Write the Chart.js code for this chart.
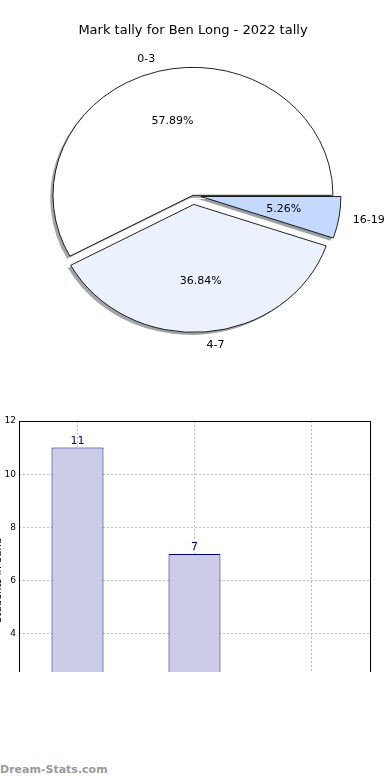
<!DOCTYPE html>
<html>
<head>
<meta charset="utf-8">
<script src="https://cdn.jsdelivr.net/npm/chart.js@4/dist/chart.umd.min.js"></script>
<style>
    html, body { margin: 0; padding: 0; background: #fff; }
    body { width: 390px; height: 780px; position: relative; overflow: hidden; font-family: "DejaVu Sans", sans-serif; }
    #pieBox { position: absolute; left: 0; top: 0; width: 390px; height: 390px; }
    #barClip { position: absolute; left: 0; top: 400px; width: 390px; height: 272px; overflow: hidden; }
    #barBox { position: absolute; left: -8px; top: 0; width: 398px; height: 420px; }
    #marca { position: absolute; left: 0; top: 763px; font-size: 11px; font-weight: bold; color: #9a9a9a; }
</style>
</head>
<body>
<div id="pieBox"><canvas id="graficaPastel" width="390" height="390"></canvas></div>
<div id="barClip"><div id="barBox"><canvas id="graficaBarras" width="398" height="420"></canvas></div></div>
<div id="marca">Dream-Stats.com</div>

<script>
// --- DATOS ---
const tituloGrafica = 'Mark tally for Ben Long - 2022 tally';
const bandas = ['0-3', '4-7', '16-19'];
const cantidades = [11, 7, 1];
const ticksY = [0, 2, 4, 6, 8, 10, 12];
const tituloEjeY = 'Students in band';

const FUENTE = '"DejaVu Sans", sans-serif';
const ESCALA_Y = 0.914;   // el pastel original sale achatado
const coloresPastel = { '0-3': '#ffffff', '4-7': '#ebf2fe', '16-19': '#c5d9fe' };
const sombras = { '0-3': 'rgba(77,77,77,0.5)', '4-7': 'rgba(70,73,76,0.5)', '16-19': 'rgba(59,65,76,0.5)' };
const separacion = { '0-3': 0, '4-7': 10, '16-19': 8 };

document.addEventListener('DOMContentLoaded', () => {
    dibujarPastel();
    dibujarBarras();
});

function dibujarPastel() {
    // matplotlib va en sentido antihorario desde las 3; Chart.js va en sentido horario
    const orden = bandas.slice().reverse();
    const valores = orden.map(b => cantidades[bandas.indexOf(b)]);
    const total = cantidades.reduce((a, b) => a + b, 0);

    const estiloPastel = {
        id: 'estiloPastel',
        beforeDatasetDraw(chart, args) {
            const ctx = chart.ctx;
            args.meta.data.forEach((arco, i) => {
                const banda = orden[i];
                const medio = (arco.startAngle + arco.endAngle) / 2;
                const ex = separacion[banda];
                // sombra
                ctx.save();
                ctx.translate(arco.x - 2.8, arco.y + 2.6);
                ctx.scale(1, ESCALA_Y);
                ctx.translate(Math.cos(medio) * ex, Math.sin(medio) * ex);
                ctx.beginPath();
                ctx.moveTo(0, 0);
                ctx.arc(0, 0, arco.outerRadius, arco.startAngle, arco.endAngle);
                ctx.closePath();
                ctx.fillStyle = sombras[banda];
                ctx.fill();
                ctx.restore();
                if (!arco._envuelto) {
                    const original = arco.draw;
                    arco.draw = function (c, area) {
                        const m = (this.startAngle + this.endAngle) / 2;
                        c.save();
                        c.translate(this.x, this.y);
                        c.scale(1, ESCALA_Y);
                        c.translate(-this.x, -this.y);
                        c.translate(Math.cos(m) * ex, Math.sin(m) * ex);
                        original.call(this, c, area);
                        c.restore();
                    };
                    arco._envuelto = true;
                }
            });
        },
        afterDatasetDraw(chart, args) {
            const ctx = chart.ctx;
            ctx.save();
            ctx.font = '11px ' + FUENTE;
            ctx.fillStyle = '#000';
            ctx.textBaseline = 'middle';
            args.meta.data.forEach((arco, i) => {
                const banda = orden[i];
                const medio = (arco.startAngle + arco.endAngle) / 2;
                const ex = separacion[banda];
                const r = arco.outerRadius;
                const cx = arco.x + Math.cos(medio) * ex;
                const cy = arco.y + Math.sin(medio) * ex * ESCALA_Y;
                const pct = (valores[i] / total * 100).toFixed(2) + '%';
                ctx.textAlign = 'center';
                ctx.fillText(pct, cx + Math.cos(medio) * r * 0.6, cy + Math.sin(medio) * r * 0.6 * ESCALA_Y);
                ctx.textAlign = Math.cos(medio) > 0 ? 'left' : 'right';
                ctx.fillText(banda, cx + Math.cos(medio) * r * 1.1, cy + Math.sin(medio) * r * 1.1 * ESCALA_Y);
            });
            ctx.restore();
        }
    };

    const ctx = document.getElementById('graficaPastel').getContext('2d');
    new Chart(ctx, {
        type: 'pie',
        data: {
            labels: orden,
            datasets: [{
                data: valores,
                backgroundColor: orden.map(b => coloresPastel[b]),
                borderColor: '#000',
                borderWidth: 0.9
            }]
        },
        options: {
            responsive: false,
            animation: false,
            rotation: 90,
            radius: 140,
            layout: { padding: { left: 0, right: 4, top: 0, bottom: 48 } },
            plugins: {
                legend: { display: false },
                tooltip: { enabled: false },
                title: {
                    display: true,
                    text: tituloGrafica,
                    color: '#000',
                    font: { family: FUENTE, size: 13, weight: 'normal' },
                    padding: { top: 23, bottom: 10 }
                }
            }
        },
        plugins: [estiloPastel]
    });
}

function dibujarBarras() {
    const marco = {
        id: 'marco',
        afterDatasetsDraw(chart) {
            const { ctx, chartArea: a } = chart;
            ctx.save();
            ctx.strokeStyle = '#000';
            ctx.lineWidth = 1;
            ctx.strokeRect(Math.round(a.left) + 0.5, Math.round(a.top) + 0.5, Math.round(a.right - a.left), Math.round(a.bottom - a.top));
            // valores encima de las barras
            const meta = chart.getDatasetMeta(0);
            ctx.font = '11px ' + FUENTE;
            ctx.fillStyle = '#00008b';
            ctx.textAlign = 'center';
            ctx.textBaseline = 'bottom';
            meta.data.forEach((barra, i) => {
                ctx.fillText(String(cantidades[i]), barra.x, barra.y - 1);
            });
            ctx.restore();
        }
    };

    const ctx = document.getElementById('graficaBarras').getContext('2d');
    new Chart(ctx, {
        type: 'bar',
        data: {
            labels: bandas,
            datasets: [{
                data: cantidades,
                backgroundColor: '#cccce6',
                borderColor: '#000080',
                borderWidth: 1,
                barPercentage: 0.444,
                categoryPercentage: 1
            }]
        },
        options: {
            responsive: false,
            animation: false,
            layout: { padding: { left: 0, right: 20, top: 21, bottom: 60 } },
            plugins: { legend: { display: false }, tooltip: { enabled: false } },
            scales: {
                x: {
                    afterFit: s => { s.height = 20; },
                    grid: { offset: false, color: '#bdbdbd', drawTicks: false, lineWidth: 1 },
                    border: { display: false, dash: [2, 2] },
                    ticks: { color: '#000', font: { family: FUENTE, size: 9 } }
                },
                y: {
                    min: 0,
                    max: 12,
                    afterFit: s => { s.width = 27; },
                    afterBuildTicks: s => { s.ticks = ticksY.map(v => ({ value: v })); },
                    grid: { color: '#bdbdbd', drawTicks: false, lineWidth: 1 },
                    border: { display: false, dash: [2, 2] },
                    ticks: { color: '#000', padding: 3, font: { family: FUENTE, size: 9 } },
                    title: { display: true, text: tituloEjeY, color: '#000', padding: 0, font: { family: FUENTE, size: 10 } }
                }
            }
        },
        plugins: [marco]
    });
}
</script>
</body>
</html>
